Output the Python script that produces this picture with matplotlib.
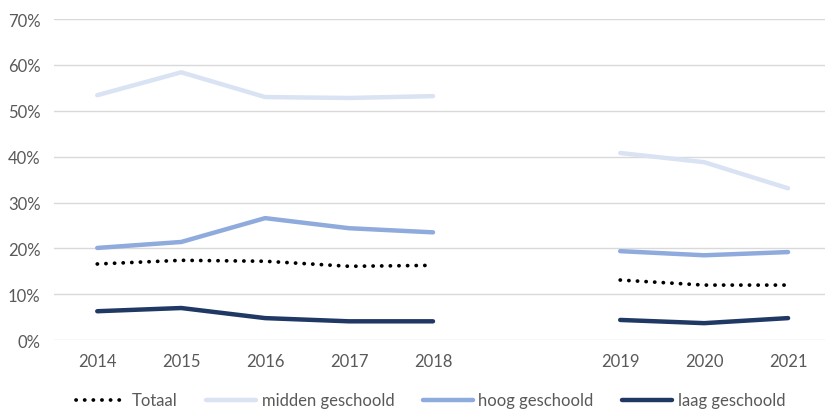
import matplotlib
matplotlib.use("Agg")
import matplotlib.pyplot as plt
from matplotlib.ticker import PercentFormatter

years = ["2014", "2015", "2016", "2017", "2018", "2019", "2020", "2021"]
xpos = [0, 1, 2, 3, 4, 6.23, 7.23, 8.23]
totaal = [0.166, 0.174, 0.172, 0.161, 0.163, 0.131, 0.120, 0.120]
midden = [0.534, 0.584, 0.530, 0.528, 0.532, 0.408, 0.388, 0.331]
hoog = [0.201, 0.214, 0.266, 0.244, 0.235, 0.194, 0.185, 0.192]
laag = [0.063, 0.070, 0.048, 0.041, 0.041, 0.044, 0.037, 0.048]

plt.rcParams['font.family'] = ['Lato', 'DejaVu Sans']
txt = '#595959'

fig = plt.figure(figsize=(8.25, 4.1), dpi=100)
ax = fig.add_axes([0.066, 0.168, 0.934, 0.783])

segs = [slice(0, 5), slice(5, 8)]
series = [
    ("Totaal", totaal, dict(color='black', lw=2.7, linestyle=(0, (0.05, 2.25)), dash_capstyle='round')),
    ("midden geschoold", midden, dict(color='#DAE3F3', lw=3.2, solid_capstyle='round')),
    ("hoog geschoold", hoog, dict(color='#8FAADC', lw=3.2, solid_capstyle='round')),
    ("laag geschoold", laag, dict(color='#203864', lw=3.2, solid_capstyle='round')),
]
handles = []
for name, vals, kw in series:
    for i, s in enumerate(segs):
        ln, = ax.plot(xpos[s], vals[s], label=name if i == 0 else None, zorder=3, **kw)
        if i == 0:
            handles.append(ln)

ax.set_ylim(0, 0.7)
ax.set_xlim(-0.51, 8.67)
ax.set_yticks([i / 10 for i in range(8)])
ax.yaxis.set_major_formatter(PercentFormatter(1.0, decimals=0))
ax.set_xticks(xpos)
ax.set_xticklabels(years)
ax.grid(axis='y', color='#D9D9D9', lw=1)
ax.set_axisbelow(True)
for sp in ax.spines.values():
    sp.set_visible(False)
ax.tick_params(axis='both', length=0, colors=txt, labelsize=12)
ax.tick_params(axis='x', pad=9)
ax.tick_params(axis='y', pad=10)

fig.legend(handles=handles, loc='lower center', bbox_to_anchor=(0.522, -0.035), ncol=4,
           frameon=False, handlelength=3.0, columnspacing=1.7, handletextpad=0.35,
           prop={'size': 12}, labelcolor=txt)

fig.savefig("out.png", dpi=100)
